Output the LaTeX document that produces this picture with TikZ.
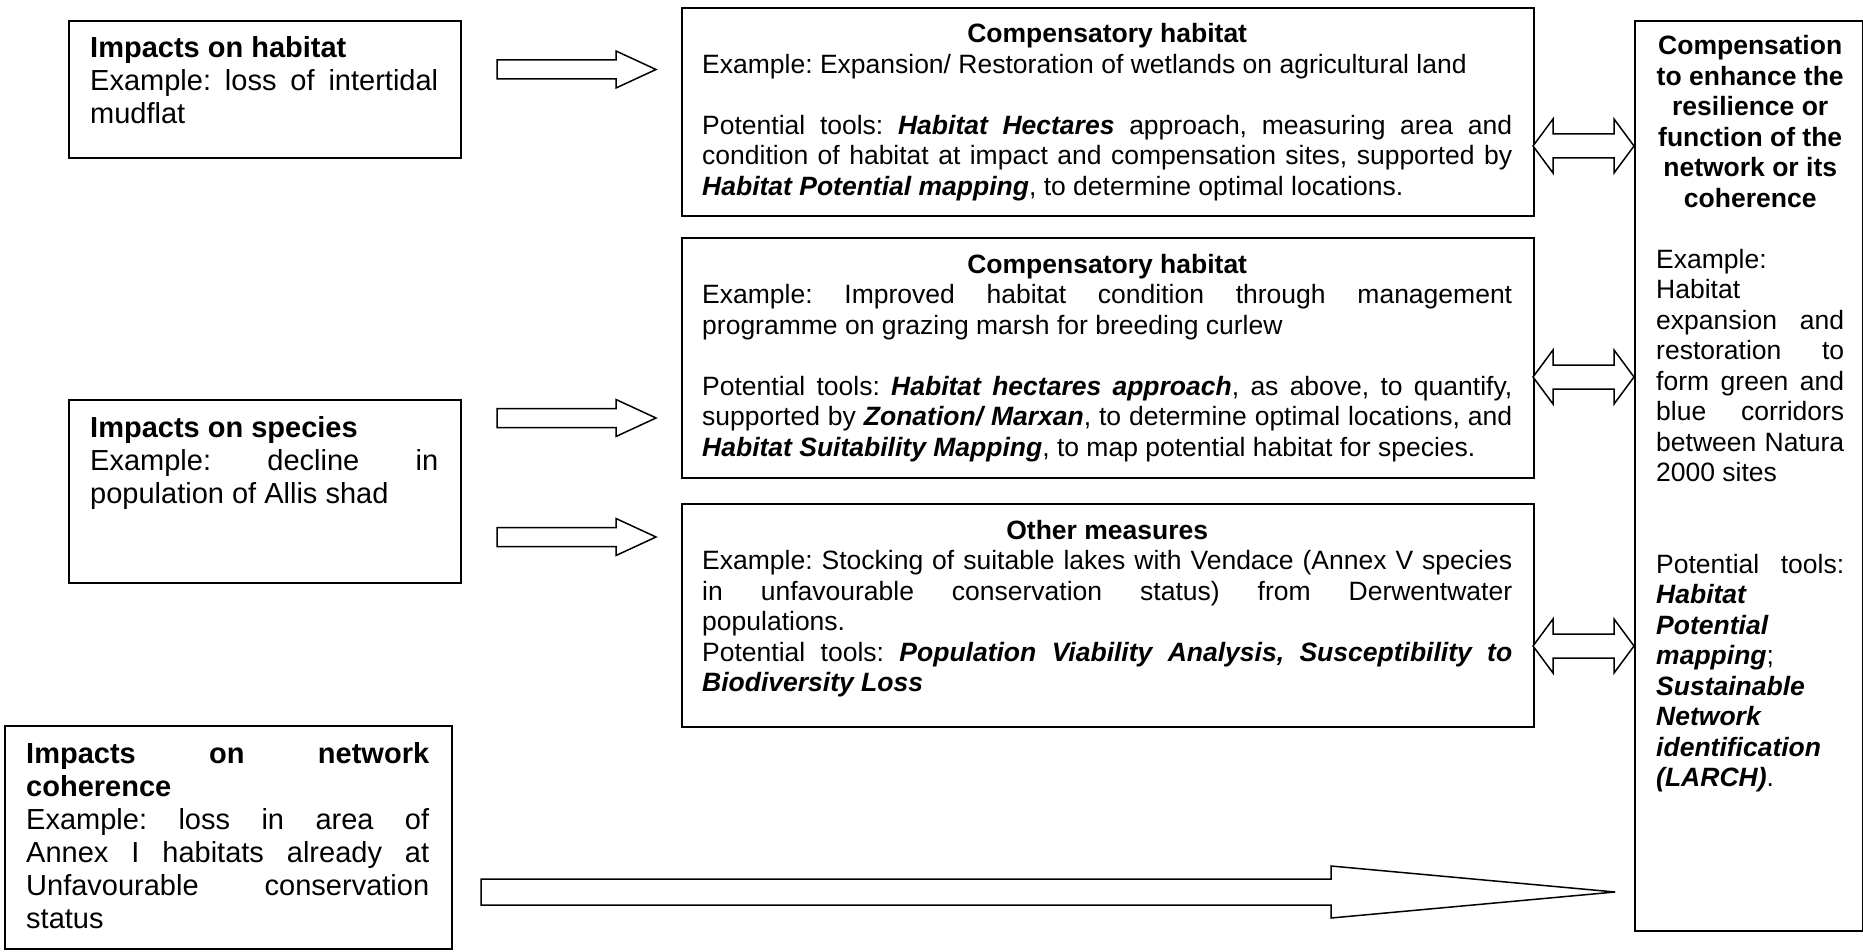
\documentclass[tikz,border=0pt]{standalone}
\usepackage{fontspec}
\setmainfont{Liberation Sans}
\usetikzlibrary{calc}

% type sizes: the middle and right-hand columns are set slightly smaller
\newcommand\midsize{\fontsize{26.5}{30.5}\selectfont}
\newcommand\sidesize{\fontsize{29}{33}\selectfont}
\newcommand\nobreaks{\frenchspacing\hyphenpenalty=10000 \exhyphenpenalty=10000 \tolerance=10000 \emergencystretch=0pt}
\newcommand\tool[1]{\textbf{\textit{#1}}}
\newcommand\heading[1]{{\centering\bfseries #1\par}}

% horizontal block arrow: tail, tip, shaft half-width, head half-width, head length
\newcommand\blockarrow[5]{%
  \draw[arrowshape] ($(#1)+(0,-#3)$) -- ($(#2)+(-#5,-#3)$) -- ($(#2)+(-#5,-#4)$) -- (#2)
    -- ($(#2)+(-#5,#4)$) -- ($(#2)+(-#5,#3)$) -- ($(#1)+(0,#3)$) -- cycle;}
% horizontal two-headed block arrow: left tip, right tip, shaft half-width, head half-width, head length
\newcommand\twowayarrow[5]{%
  \draw[arrowshape] (#1) -- ($(#1)+(#5,-#4)$) -- ($(#1)+(#5,-#3)$) -- ($(#2)+(-#5,-#3)$)
    -- ($(#2)+(-#5,-#4)$) -- (#2) -- ($(#2)+(-#5,#4)$) -- ($(#2)+(-#5,#3)$)
    -- ($(#1)+(#5,#3)$) -- ($(#1)+(#5,#4)$) -- cycle;}

\tikzset{
  box/.style={draw=black, line width=2pt, fill=white, inner sep=0pt, anchor=north west},
  midtext/.style={anchor=base west, inner sep=0pt, text width=810pt, align=justify, font=\midsize\nobreaks},
  sidetext/.style={anchor=base west, inner sep=0pt, text width=348pt, align=justify, font=\sidesize\nobreaks},
  righttext/.style={anchor=base west, inner sep=0pt, text width=188pt, align=justify, font=\midsize\nobreaks},
  arrowshape/.style={draw=black, line width=1.5pt, fill=white, line join=miter},
}

\begin{document}
\begin{tikzpicture}[x=1pt, y=-1pt]
\fill[white] (0,0) rectangle (1863,952);
\path[use as bounding box] (0,0) rectangle (1863,952);

% ---- impacts (left column) ----
\node[box, minimum width=392pt, minimum height=137pt] (hab) at (68,20) {};
\node[sidetext] (habT) at (90,58) {\textbf{Impacts on habitat}\par
  Example: loss of intertidal\linebreak mudflat};

\node[box, minimum width=392pt, minimum height=183pt] (spec) at (68,399) {};
\node[sidetext] (specT) at (90,437) {\textbf{Impacts on species}\par
  Example: decline in\linebreak population of Allis shad};

\node[box, minimum width=447pt, minimum height=223pt] (net) at (4,725) {};
\node[sidetext, text width=403pt] (netT) at (26,763) {\textbf{Impacts on network\linebreak coherence}\par
  Example: loss in area of\linebreak Annex I habitats already at\linebreak
  Unfavourable conservation\linebreak status};

% ---- compensation measures (middle column) ----
\node[box, minimum width=852pt, minimum height=208pt] (comp1) at (681,7) {};
\node[midtext] (comp1T) at (702,43) {\heading{Compensatory habitat}
  Example: Expansion/ Restoration of wetlands on agricultural land\par
  \mbox{}\par
  Potential tools: \tool{Habitat Hectares} approach, measuring area and\linebreak
  condition of habitat at impact and compensation sites, supported by\linebreak
  \tool{Habitat Potential mapping}, to determine optimal locations.};

\node[box, minimum width=852pt, minimum height=240pt] (comp2) at (681,237) {};
\node[midtext] (comp2T) at (702,273) {\heading{Compensatory habitat}
  Example: Improved habitat condition through management\linebreak
  programme on grazing marsh for breeding curlew\par
  \mbox{}\par
  Potential tools: \tool{Habitat hectares approach}, as above, to quantify,\linebreak
  supported by \tool{Zonation/ Marxan}, to determine optimal locations, and\linebreak
  \tool{Habitat Suitability Mapping}, to map potential habitat for species.};

\node[box, minimum width=852pt, minimum height=223pt] (other) at (681,503) {};
\node[midtext] (otherT) at (702,539) {\heading{Other measures}
  Example: Stocking of suitable lakes with Vendace (Annex V species\linebreak
  in unfavourable conservation status) from Derwentwater\linebreak
  populations.\par
  Potential tools: \tool{Population Viability Analysis, Susceptibility to\linebreak
  Biodiversity Loss}};

% ---- network coherence (right column) ----
\node[box, minimum width=228pt, minimum height=910pt] (coh) at (1634,20) {};
\node[righttext] (cohT) at (1656,55) {{\centering\bfseries Compensation\par to enhance the\par
  resilience or\par function of the\par network or its\par coherence\par}
  \mbox{}\par
  Example:\linebreak Habitat\linebreak expansion and\linebreak restoration to\linebreak
  form green and\linebreak blue corridors\linebreak between Natura\linebreak 2000 sites\par
  \mbox{}\par \mbox{}\par
  Potential tools:\linebreak \tool{Habitat}\linebreak \tool{Potential}\linebreak
  \tool{mapping};\linebreak \tool{Sustainable}\linebreak \tool{Network}\linebreak
  \tool{identification}\linebreak \tool{(LARCH)}.};

% ---- connectors ----
\coordinate (a1s) at (497,69.5);  \coordinate (a1e) at (656,69.5);
\coordinate (a2s) at (497,418);   \coordinate (a2e) at (656,418);
\coordinate (a3s) at (497,537);   \coordinate (a3e) at (656,537);
\coordinate (bigs) at (481,892);  \coordinate (bige) at (1615,892);
\blockarrow{a1s}{a1e}{9.5}{18.5}{40}
\blockarrow{a2s}{a2e}{9.5}{18.5}{40}
\blockarrow{a3s}{a3e}{9.5}{18.5}{40}
\blockarrow{bigs}{bige}{13}{26}{284}

\coordinate (d1l) at (1533,146); \coordinate (d1r) at (1634,146);
\coordinate (d2l) at (1533,377); \coordinate (d2r) at (1634,377);
\coordinate (d3l) at (1533,646); \coordinate (d3r) at (1634,646);
\twowayarrow{d1l}{d1r}{12}{27}{20}
\twowayarrow{d2l}{d2r}{12}{27}{20}
\twowayarrow{d3l}{d3r}{12}{27}{20}
\end{tikzpicture}
\end{document}
